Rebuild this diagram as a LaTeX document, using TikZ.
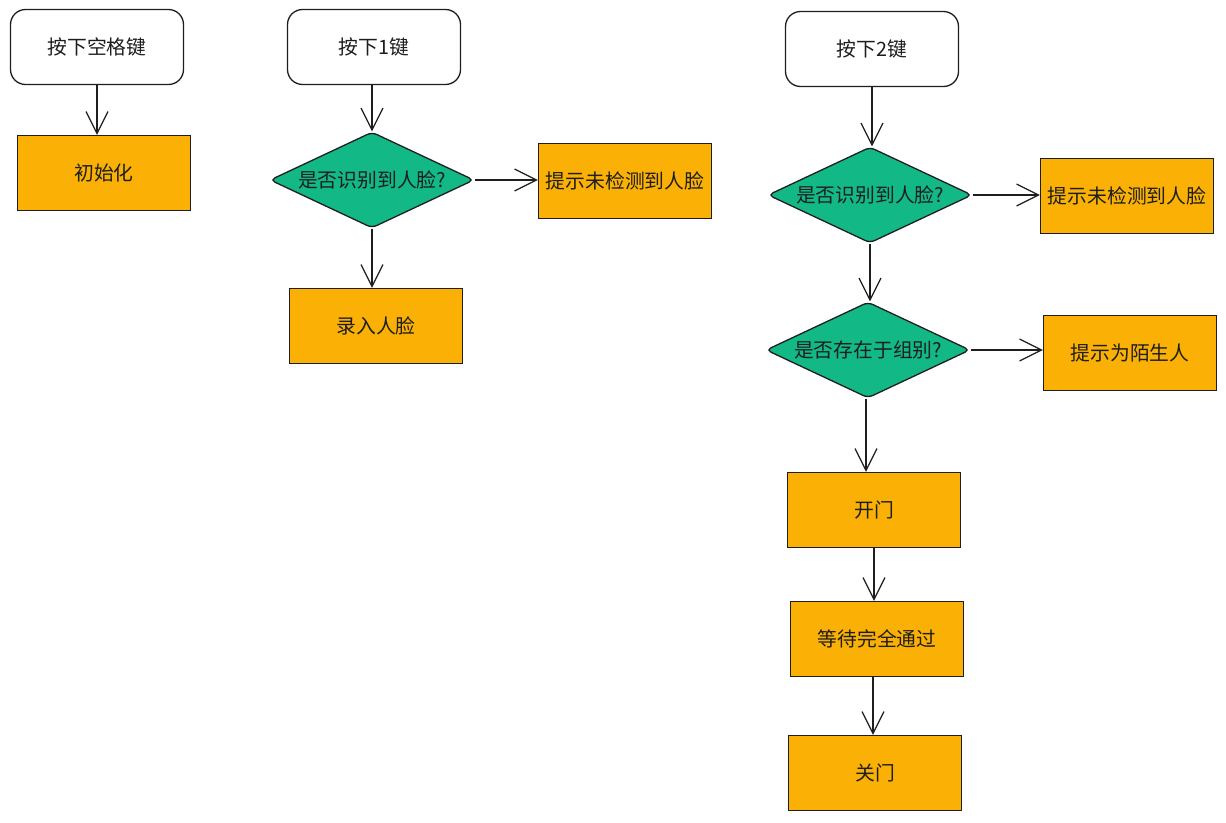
\documentclass[tikz,border=0pt]{standalone}
\usepackage{fontspec}
\newfontfamily\cjk{Noto Sans CJK SC}
\usetikzlibrary{shapes.geometric,arrows.meta}
\definecolor{boxorange}{HTML}{FAB005}
\definecolor{diagreen}{HTML}{12B886}
\definecolor{ink}{HTML}{1E1E1E}
\tikzset{
  base/.style={draw=ink, line width=1.3pt, text=ink, font=\cjk\fontsize{19.8}{23}\selectfont, inner sep=0pt},
  startbox/.style={base, rectangle, rounded corners=15pt, minimum width=173pt, minimum height=75pt, fill=white},
  procbox/.style={base, rectangle, minimum width=173pt, minimum height=75pt, fill=boxorange},
  decbox/.style={base, diamond, aspect=2.1, rounded corners=5pt, minimum width=204pt, minimum height=96pt, fill=diagreen},
  conn/.style={draw=ink, line width=1.2pt, -{Straight Barb[length=22pt,width=22pt,line width=1.2pt]}}
}
\begin{document}
\begin{tikzpicture}[x=1pt,y=-1pt]
\useasboundingbox (0,0) rectangle (1226,822);
% column 1
\node[startbox] (s0) at (97,47) {按下空格键};
\node[procbox] (init) at (104,173) {初始化};
% column 2
\node[startbox] (s1) at (374,47) {按下1键};
\node[decbox] (d1) at (372,180) {是否识别到人脸?};
\node[procbox] (n1) at (625,181) {提示未检测到人脸};
\node[procbox] (rec) at (376,326) {录入人脸};
% column 3
\node[startbox] (s2) at (872,49) {按下2键};
\node[decbox] (d2) at (870,195) {是否识别到人脸?};
\node[procbox] (n2) at (1127,196) {提示未检测到人脸};
\node[decbox] (d3) at (868,350) {是否存在于组别?};
\node[procbox] (str) at (1130,353) {提示为陌生人};
\node[procbox] (open) at (874,510) {开门};
\node[procbox] (wait) at (877,639) {等待完全通过};
\node[procbox] (close) at (875,773) {关门};
% connectors
\draw[conn] (s0.south -| init.north) ++(-7,0) coordinate (c0) -- (c0 |- init.north);
\draw[conn] (s1.south) ++(-2,0) coordinate (c1) -- (c1 |- d1.north);
\draw[conn] (d1.east) -- (d1.east -| n1.west);
\draw[conn] (d1.south) -- (d1.south |- rec.north);
\draw[conn] (s2.south) -- (s2.south |- d2.north);
\draw[conn] (d2.east) -- (d2.east -| n2.west);
\draw[conn] (d2.south) -- (d2.south |- d3.north);
\draw[conn] (d3.east) -- (d3.east -| str.west);
\draw[conn] (d3.south) ++(-2,0) coordinate (c3) -- (c3 |- open.north);
\draw[conn] (open.south) -- (open.south |- wait.north);
\draw[conn] (wait.south) ++(-4,0) coordinate (c4) -- (c4 |- close.north);
\end{tikzpicture}
\end{document}
